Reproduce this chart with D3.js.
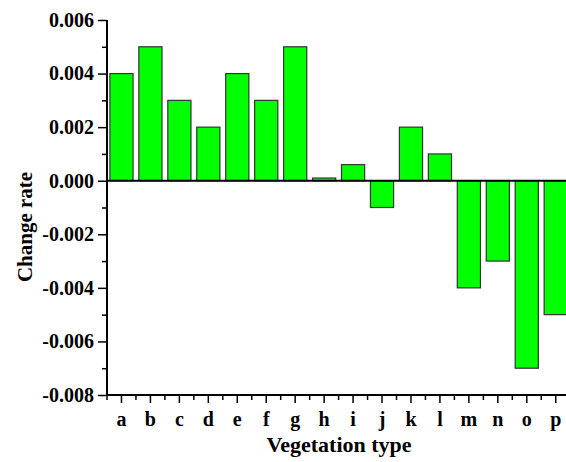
<!DOCTYPE html>
<html><head><meta charset="utf-8">
<script src="https://cdn.jsdelivr.net/npm/d3@7"></script>
<style>body{margin:0;background:#fff}svg{display:block}svg text{font-family:'Liberation Serif','Times New Roman','DejaVu Serif',serif !important;font-weight:bold;fill:#000}</style>
</head><body>
<svg id="c" width="566" height="462"></svg>
<script>
const categories = ["a","b","c","d","e","f","g","h","i","j","k","l","m","n","o","p"];
const values = [0.004,0.005,0.003,0.002,0.004,0.003,0.005,0.0001,0.0006,-0.001,0.002,0.001,-0.004,-0.003,-0.007,-0.005];
const yTicks = [-0.008,-0.006,-0.004,-0.002,0,0.002,0.004,0.006];
const yMinorTicks = [-0.007,-0.005,-0.003,-0.001,0.001,0.003,0.005];

const svg = d3.select("#c");
const mLeft = 107, mTop = 20, mBottom = 395;
const x = d3.scaleBand().domain(categories).range([mLeft, mLeft + 16*28.95]).paddingInner(0.2).paddingOuter(0.1);
const y = d3.scaleLinear().domain([-0.008, 0.006]).range([mBottom, mTop]);
const fmt = d => d3.format(".3f")(d).replace("\u2212", "-");

// bars
svg.append("g").selectAll("rect").data(values).join("rect")
  .attr("x", (d,i) => x(categories[i]))
  .attr("width", x.bandwidth())
  .attr("y", d => y(Math.max(0,d)))
  .attr("height", d => Math.abs(y(d) - y(0)))
  .attr("fill", "#00ff00").attr("stroke", "#333").attr("stroke-width", 1.2);

// zero line
svg.append("line").attr("x1", mLeft).attr("x2", 566).attr("y1", y(0)).attr("y2", y(0))
  .attr("stroke", "#000").attr("stroke-width", 2);

// y axis
const yAxis = svg.append("g").attr("transform", `translate(${mLeft},0)`)
  .call(d3.axisLeft(y).tickValues(yTicks).tickFormat(fmt).tickSize(9).tickPadding(4));
svg.append("g").attr("transform", `translate(${mLeft},0)`)
  .call(d3.axisLeft(y).tickValues(yMinorTicks).tickFormat("").tickSize(5))
  .call(g => g.select(".domain").remove())
  .selectAll("line").attr("stroke-width", 1.5);

// x axis
const xAxis = svg.append("g").attr("transform", `translate(0,${mBottom})`)
  .call(d3.axisBottom(x).tickSize(8).tickPadding(9));
const minorX = categories.slice(0,-1).map((c,i)=> (x(c)+x.bandwidth()/2 + x(categories[i+1])+x.bandwidth()/2)/2);
svg.append("g").selectAll("line.mx").data(minorX).join("line")
  .attr("x1", d=>d).attr("x2", d=>d).attr("y1", mBottom).attr("y2", mBottom+5)
  .attr("stroke","#000").attr("stroke-width",1.5);
svg.append("line").attr("x1", mLeft).attr("x2", mLeft).attr("y1", mBottom).attr("y2", mBottom+5)
  .attr("stroke","#000").attr("stroke-width",1.5);

[yAxis, xAxis].forEach(g => {
  g.attr("font-family", null).attr("font-size", null);
  g.select(".domain").attr("stroke-width", 2).attr("stroke", "#000");
  g.selectAll(".tick line").attr("stroke-width", 1.5);
  g.selectAll("text").attr("fill", "#000");
});
yAxis.select(".domain").attr("d", `M0,${mTop}V${mBottom}`);
xAxis.select(".domain").attr("d", `M${mLeft},0H566`);
yAxis.selectAll("text").style("font-size", "20px");
xAxis.selectAll("text").style("font-size", "20px");

svg.append("text").attr("transform", "translate(32,227) rotate(-90)").attr("text-anchor","middle")
  .style("font-size","21px").text("Change rate");
svg.append("text").attr("x", 339).attr("y", 452).attr("text-anchor","middle")
  .style("font-size","22px").text("Vegetation type");
</script>
</body></html>
